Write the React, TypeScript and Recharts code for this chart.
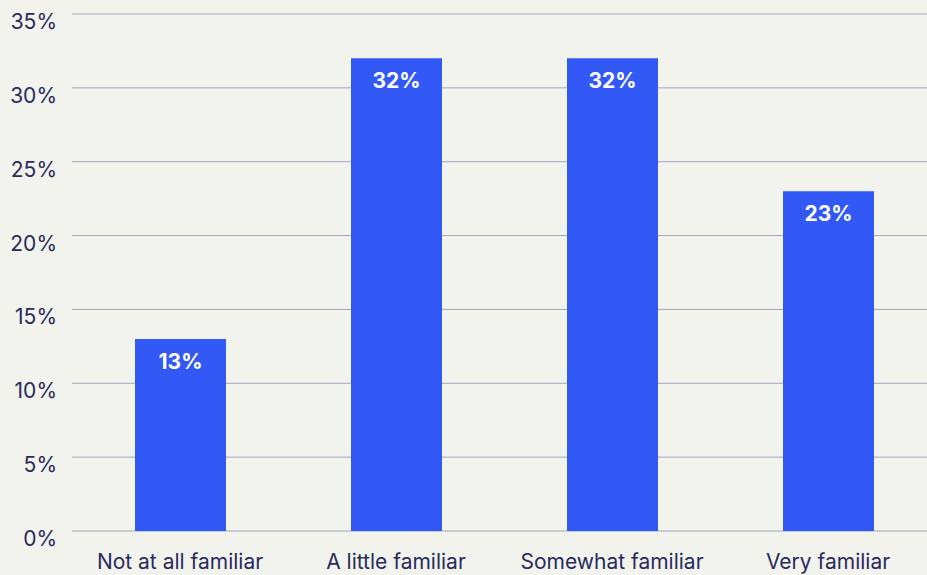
import React from 'react';
import { BarChart, Bar, XAxis, YAxis, CartesianGrid, LabelList } from 'recharts';

const categories = ['Not at all familiar', 'A little familiar', 'Somewhat familiar', 'Very familiar'];
const shares = [13, 32, 32, 23];
const yTicks = [0, 5, 10, 15, 20, 25, 30, 35];

const data = categories.map((name, i) => ({ name, value: shares[i] }));

const TEXT = '#282b5c';
const BAR = '#3259f5';
const FONT = 'Inter, "Noto Sans", sans-serif';

const YTick = ({ y, payload }: any) => (
  <text x={57} y={y + 15} textAnchor="end" fill={TEXT} fontSize={21} fontFamily={FONT}>
    {payload.value}%
  </text>
);

const XTick = ({ x, y, payload }: any) => (
  <text x={x} y={569} textAnchor="middle" fill={TEXT} fontSize={21} fontFamily={FONT}>
    {payload.value}
  </text>
);

const ValueLabel = ({ x, y, width, value }: any) => (
  <text
    x={x + width / 2}
    y={y + 30}
    textAnchor="middle"
    fill="#ffffff"
    fontSize={21}
    fontWeight={700}
    fontFamily={FONT}
  >
    {value}%
  </text>
);

export default function App() {
  return (
    <div
      style={{
        position: 'fixed',
        left: 0,
        top: 0,
        width: 927,
        height: 575,
        overflow: 'hidden',
        background: '#f3f3ee',
      }}
    >
      <BarChart
        width={936}
        height={575}
        data={data}
        margin={{ top: 14, right: 0, left: 0, bottom: 0 }}
      >
        <CartesianGrid vertical={false} stroke="#a0a7bc" strokeWidth={1} />
        <XAxis
          dataKey="name"
          height={44}
          axisLine={false}
          tickLine={false}
          tick={<XTick />}
          interval={0}
        />
        <YAxis
          width={72}
          domain={[0, 35]}
          ticks={yTicks}
          axisLine={false}
          tickLine={false}
          tick={<YTick />}
        />
        <Bar dataKey="value" fill={BAR} barSize={91} isAnimationActive={false}>
          <LabelList dataKey="value" content={<ValueLabel />} />
        </Bar>
      </BarChart>
    </div>
  );
}
